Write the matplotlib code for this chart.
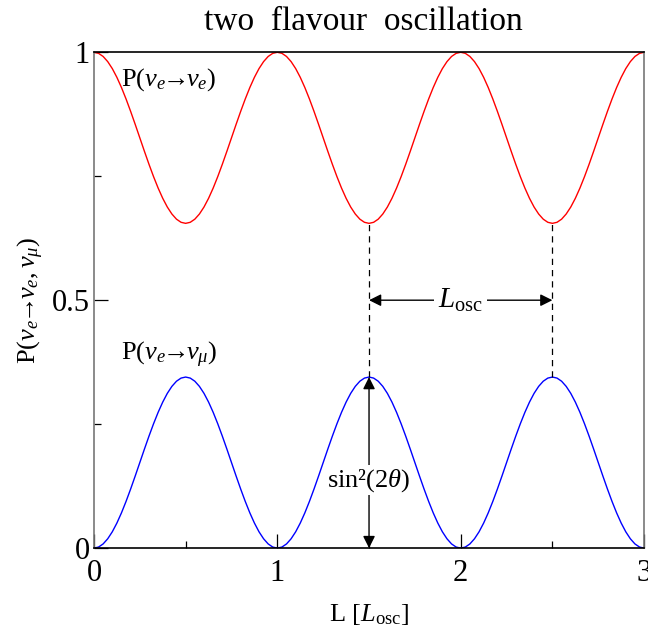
import matplotlib
matplotlib.use("Agg")
import matplotlib.pyplot as plt
from matplotlib.ticker import MultipleLocator

plt.rcParams["font.family"] = ["Liberation Serif", "DejaVu Serif"]
plt.rcParams["mathtext.fontset"] = "custom"
plt.rcParams["mathtext.rm"] = "Liberation Serif"
plt.rcParams["mathtext.it"] = "Liberation Serif:italic"
plt.rcParams["mathtext.bf"] = "Liberation Serif:bold"

# L in units of L_osc, sampled every 0.025
L = [i * 0.025 for i in range(121)]

# one period of P(nu_e -> nu_mu) (peak ~0.345)
half = [0.0, 0.0021, 0.0084, 0.0188, 0.0329, 0.0505, 0.0711, 0.0942, 0.1192, 0.1455,
        0.1725, 0.1995, 0.2258, 0.2508, 0.2739, 0.2945, 0.3121, 0.3262, 0.3366, 0.3429]
period_mu = half + [0.345] + half[:0:-1]
p_emu = period_mu * 3 + [0.0]
p_ee = [round(1 - v, 4) for v in p_emu]

amp = 0.345        # sin^2(2 theta)
x_mark = [1.5, 2.5]

fig = plt.figure(figsize=(6.48, 6.3), dpi=100)
ax = fig.add_axes([0.145, 0.130, 0.849, 0.787])

ax.plot(L, p_ee, color="red", lw=1.0)
ax.plot(L, p_emu, color="blue", lw=1.0)

ax.set_xlim(0, 3)
ax.set_ylim(0, 1)

# dashed guides between minimum of P_ee and maximum of P_emu
for xm in x_mark:
    ax.plot([xm, xm], [amp, 1 - amp], color="black", lw=0.9, ls=(0, (5, 4)))

# L_osc arrow
ax.annotate("", xy=(x_mark[0], 0.5), xytext=(x_mark[1], 0.5),
            arrowprops=dict(arrowstyle="<|-|>", color="black", lw=1.0,
                            shrinkA=0, shrinkB=0, mutation_scale=18))
ax.text(2.0, 0.5, r"$L_{\rm osc}$", ha="center", va="center", fontsize=21,
        bbox=dict(facecolor="white", edgecolor="none", pad=3))

# amplitude arrow
ax.annotate("", xy=(x_mark[0], 0), xytext=(x_mark[0], amp),
            arrowprops=dict(arrowstyle="<|-|>", color="black", lw=1.0,
                            shrinkA=0, shrinkB=0, mutation_scale=18))
ax.text(1.5, 0.137, r"sin²$(2\theta)$", ha="center", va="center", fontsize=19,
        bbox=dict(facecolor="white", edgecolor="none", pad=1))

ax.text(0.15, 0.944, r"P($\nu_e\!\!\rightarrow\!\!\nu_e$)", ha="left", va="center", fontsize=19)
ax.text(0.15, 0.39, r"P($\nu_e\!\!\rightarrow\!\!\nu_\mu$)", ha="left", va="center", fontsize=19)

fig.text(0.561, 0.966, "two  flavour  oscillation", ha="center", va="center", fontsize=24)
ax.set_xlabel(r"L [$L_{\rm osc}$]", fontsize=19, labelpad=10)
ax.set_ylabel(r"P($\nu_e\!\!\rightarrow\!\!\nu_e,\nu_\mu$)", fontsize=19, labelpad=4)

ax.set_xticks([0, 1, 2, 3])
ax.set_xticklabels(["0", "1", "2", "3"])
ax.set_yticks([0, 0.5, 1])
ax.set_yticklabels(["0", "0.5", "1"])
ax.xaxis.set_minor_locator(MultipleLocator(0.5))
ax.yaxis.set_minor_locator(MultipleLocator(0.25))
ax.tick_params(which="both", direction="in", labelsize=22, width=0.9)
ax.tick_params(axis="x", which="both", pad=8)
ax.tick_params(axis="y", which="both", pad=3)
ax.tick_params(which="major", length=10)
ax.tick_params(which="minor", length=5)

for s in ["left", "right"]:
    ax.spines[s].set_color("#777777")
for s in ["top", "bottom"]:
    ax.spines[s].set_color("black")
for s in ax.spines.values():
    s.set_linewidth(1.2)

fig.savefig("out.png", dpi=100)
